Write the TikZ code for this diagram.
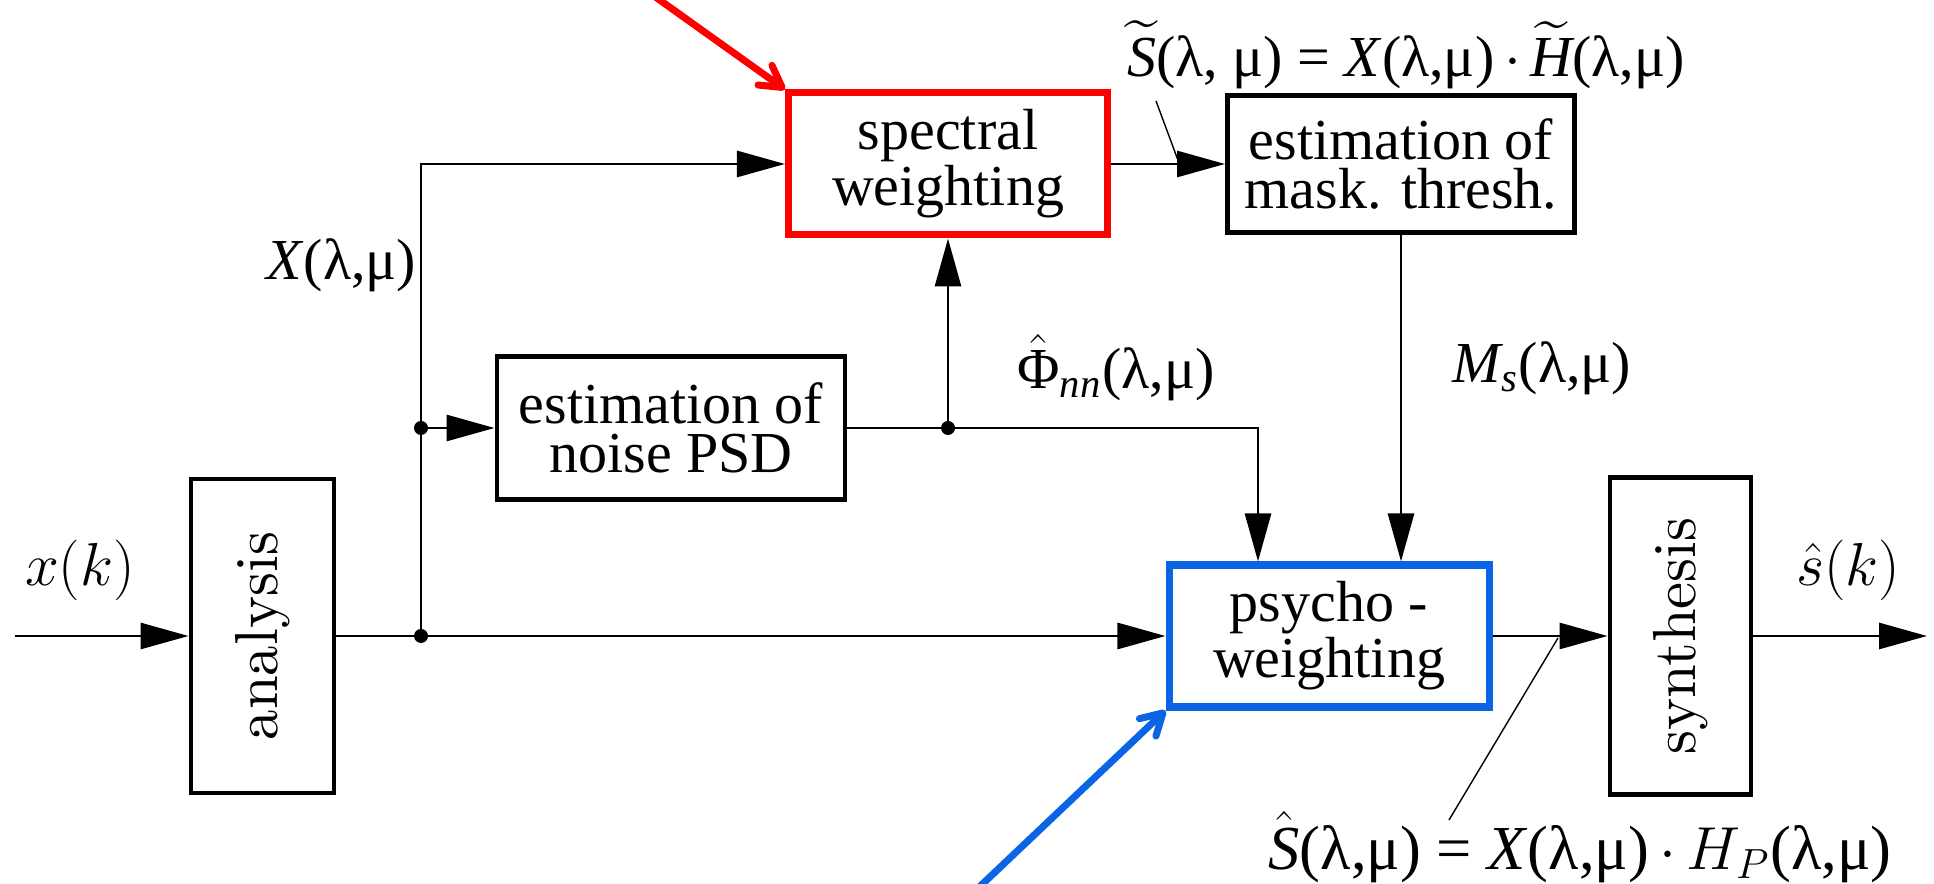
\documentclass[tikz,border=0pt]{standalone}
\usepackage{amsmath}
\usepackage{fontspec}
\newfontfamily\timesfont{Liberation Serif}
\newfontfamily\cmtenfont[Extension=.otf]{lmroman10-regular}
\usetikzlibrary{arrows.meta,positioning,calc}
\definecolor{markred}{HTML}{FF0000}
\definecolor{markblue}{HTML}{0A64E4}
\newcommand{\blockfont}{\timesfont\fontsize{16.5}{14}\selectfont}
\newcommand{\turnfont}{\cmtenfont\fontsize{17.3}{18}\selectfont}

\begin{document}
\begin{tikzpicture}[
  block/.style={draw, line width=1.4pt, inner sep=0pt, align=center, font=\blockfont},
  turnblock/.style={block, font=\turnfont},
  sigline/.style={line width=0.8pt},
  sigarrow/.style={-{Triangle[length=4.8mm,width=2.6mm]}, line width=0.8pt},
  pointer/.style={line width=0.4pt},
  dot/.style={circle, fill, inner sep=0pt, minimum size=1.4mm},
  sig/.style={font=\blockfont, inner sep=0pt},
  hilite/.style={-{Straight Barb[length=2.1mm,width=2.4mm,round]}, line width=2pt, line cap=round},
]
\useasboundingbox (0,0) rectangle (19.34,8.84);

% blocks
\node[turnblock, minimum width=1.43cm, minimum height=3.14cm] (ana) at (2.625,2.48) {\rotatebox{90}{analysis}};
\node[block, minimum width=3.48cm, minimum height=1.43cm] (noise) at (6.71,4.56) {estimation of\\noise PSD};
\node[block, draw=markred, line width=2pt, minimum width=3.19cm, minimum height=1.42cm] (spec) at (9.48,7.20) {spectral\\weighting};
\node[block, minimum width=3.47cm, minimum height=1.37cm] (mask) at (14.01,7.20) {estimation of\\mask. thresh.};
\node[block, draw=markblue, line width=2pt, minimum width=3.2cm, minimum height=1.42cm] (psy) at (13.29,2.48) {psycho -\\weighting};
\node[turnblock, minimum width=1.41cm, minimum height=3.17cm] (syn) at (16.805,2.48) {\rotatebox{90}{synthesis}};

% branch points
\coordinate (in) at (0.15,2.48);
\coordinate (out) at (19.27,2.48);
\coordinate (j1) at (4.21,2.48);
\coordinate (j2) at (4.21,4.56);
\coordinate (j3) at (spec.south |- noise.east);
\coordinate (j4) at (12.58,4.56);

% signal paths
\draw[sigarrow] (in) -- (ana);
\draw[sigarrow] (ana) -- (psy);
\draw[sigarrow] (j1) |- (spec.west);
\draw[sigarrow] (j2) -- (noise);
\draw[sigline] (noise) -- (j3);
\draw[sigarrow] (j3) -- (spec);
\draw[sigarrow] (j3) -| (j4 |- psy.north);
\draw[sigarrow] (spec) -- (mask);
\draw[sigarrow] (mask) -- (mask |- psy.north);
\draw[sigarrow] (psy) -- (syn);
\draw[sigarrow] (syn) -- (out);
\foreach \j in {j1,j2,j3} \node[dot] at (\j) {};

% signal labels
\node[sig] (xin) at (0.80,3.14) {$x(k)$};
\node[sig, anchor=east] (xlab) at (4.17,6.19) {\textit{X}(λ,μ)};
\node[sig] (philab) at (11.16,5.16) {$\hat{\text{Φ}}_{\textit{nn}}$(λ,μ)};
\node[sig] (mslab) at (15.42,5.16) {$\textit{M}_{\textit{s}}$(λ,μ)};
\node[sig] (stlab) at (14.06,8.29) {$\widetilde{\textit{S}}$(λ, μ) = \textit{X}(λ,μ)\,$\cdot$\,$\widetilde{\textit{H}}$(λ,μ)};
\node[sig] (sout) at (18.48,3.14) {$\hat{s}(k)$};
\node[sig, font=\timesfont\fontsize{17.8}{18}\selectfont] (shlab) at (15.80,0.37) {$\hat{\textit{S}}$(λ,μ) = \textit{X}(λ,μ)\,$\cdot$\,$H_P$(λ,μ)};

% label pointers
\coordinate (stp1) at (11.56,7.83);
\coordinate (stp2) at (11.79,7.21);
\draw[pointer] (stp1) -- (stp2);
\coordinate (shp1) at (14.49,0.64);
\coordinate (shp2) at (15.58,2.46);
\draw[pointer] (shp1) -- (shp2);

% highlight arrows
\coordinate (redtail) at (6.47,8.93);
\draw[hilite, markred] (redtail) -- (spec.north west);
\coordinate (bluetail) at (9.73,-0.09);
\draw[hilite, markblue] (bluetail) -- (psy.south west);

\end{tikzpicture}
\end{document}
